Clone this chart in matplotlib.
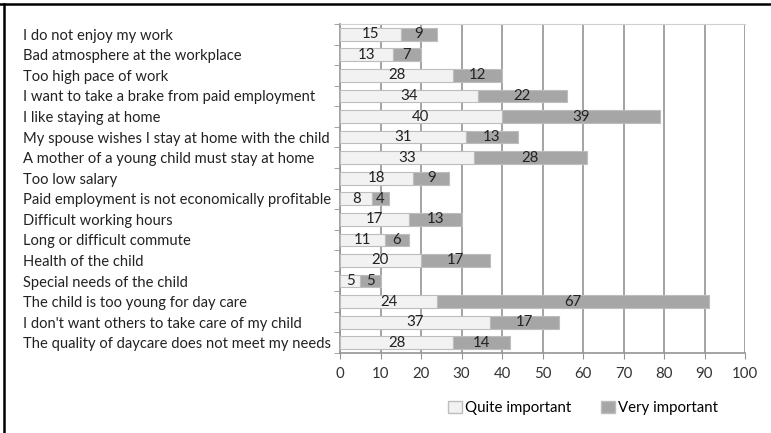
import matplotlib.pyplot as plt
from matplotlib.lines import Line2D
from matplotlib.patches import Patch

plt.rcParams['font.family'] = ['Lato', 'DejaVu Sans']

reasons = [
    "I do not enjoy my work",
    "Bad atmosphere at the workplace",
    "Too high pace of work",
    "I want to take a brake from paid employment",
    "I like staying at home",
    "My spouse wishes I stay at home with the child",
    "A mother of a young child must stay at home",
    "Too low salary",
    "Paid employment is not economically profitable",
    "Difficult working hours",
    "Long or difficult commute",
    "Health of the child",
    "Special needs of the child",
    "The child is too young for day care",
    "I don't want others to take care of my child",
    "The quality of daycare does not meet my needs",
]
quite = [15, 13, 28, 34, 40, 31, 33, 18, 8, 17, 11, 20, 5, 24, 37, 28]
very = [9, 7, 12, 22, 39, 13, 28, 9, 4, 13, 6, 17, 5, 67, 17, 14]
xticks = list(range(0, 101, 10))

light = "#f2f2f2"
dark = "#a6a6a6"
edge = "#bdbdbd"
grid = "#949494"

fig = plt.figure(figsize=(7.71, 4.33), dpi=100)
ax = fig.add_axes([340 / 771, 1 - 353 / 433, 405 / 771, 329 / 433])

y = list(range(len(reasons)))
ax.barh(y, quite, height=0.62, color=light, edgecolor=edge, linewidth=0.8, zorder=3)
ax.barh(y, very, left=quite, height=0.62, color=dark, edgecolor=edge, linewidth=0.8, zorder=3)

for yi, q, v in zip(y, quite, very):
    ax.text(q / 2, yi, str(q), ha="center", va="center", fontsize=10.8, color="#222222", zorder=4)
    ax.text(q + v / 2, yi, str(v), ha="center", va="center", fontsize=10.8, color="#222222", zorder=4)

ax.set_xlim(0, 100)
ax.set_ylim(len(reasons) - 0.5, -0.5)
ax.set_xticks(xticks)
ax.set_xticklabels([str(t) for t in xticks], fontsize=10.8, color="#333333")
ax.tick_params(axis="x", length=4, color=grid, pad=6)
ax.xaxis.grid(True, color=grid, linewidth=1.2, zorder=0)

# category labels, left aligned
ax.set_yticks(y)
ax.set_yticklabels(reasons, fontsize=10.65, color="#222222", ha="left")
ax.tick_params(axis="y", length=0, pad=228)
# boundary ticks on the left axis
ax.set_yticks([i - 0.5 for i in range(len(reasons) + 1)], minor=True)
ax.tick_params(axis="y", which="minor", length=4, color=grid)

for side in ["left", "bottom"]:
    ax.spines[side].set_color(grid)
    ax.spines[side].set_linewidth(1.2)
ax.spines["top"].set_color("#cfcfcf")
ax.spines["right"].set_visible(False)

handles = [
    Patch(facecolor=light, edgecolor=edge, label="Quite important"),
    Patch(facecolor=dark, edgecolor=edge, label="Very important"),
]
fig.legend(handles=handles, loc="center", bbox_to_anchor=(583 / 771, 1 - 408 / 433), ncol=2,
           frameon=False, fontsize=10.8, handlelength=0.9, handleheight=0.9,
           handletextpad=0.2, columnspacing=2.0)

# outer frame (top and left edges)
fig.add_artist(Line2D([0, 1], [1 - 3.5 / 433] * 2, color="black", linewidth=1.8, transform=fig.transFigure))
fig.add_artist(Line2D([4 / 771] * 2, [0, 1 - 3.5 / 433], color="black", linewidth=1.8, transform=fig.transFigure))

fig.savefig("out.png", dpi=100)
